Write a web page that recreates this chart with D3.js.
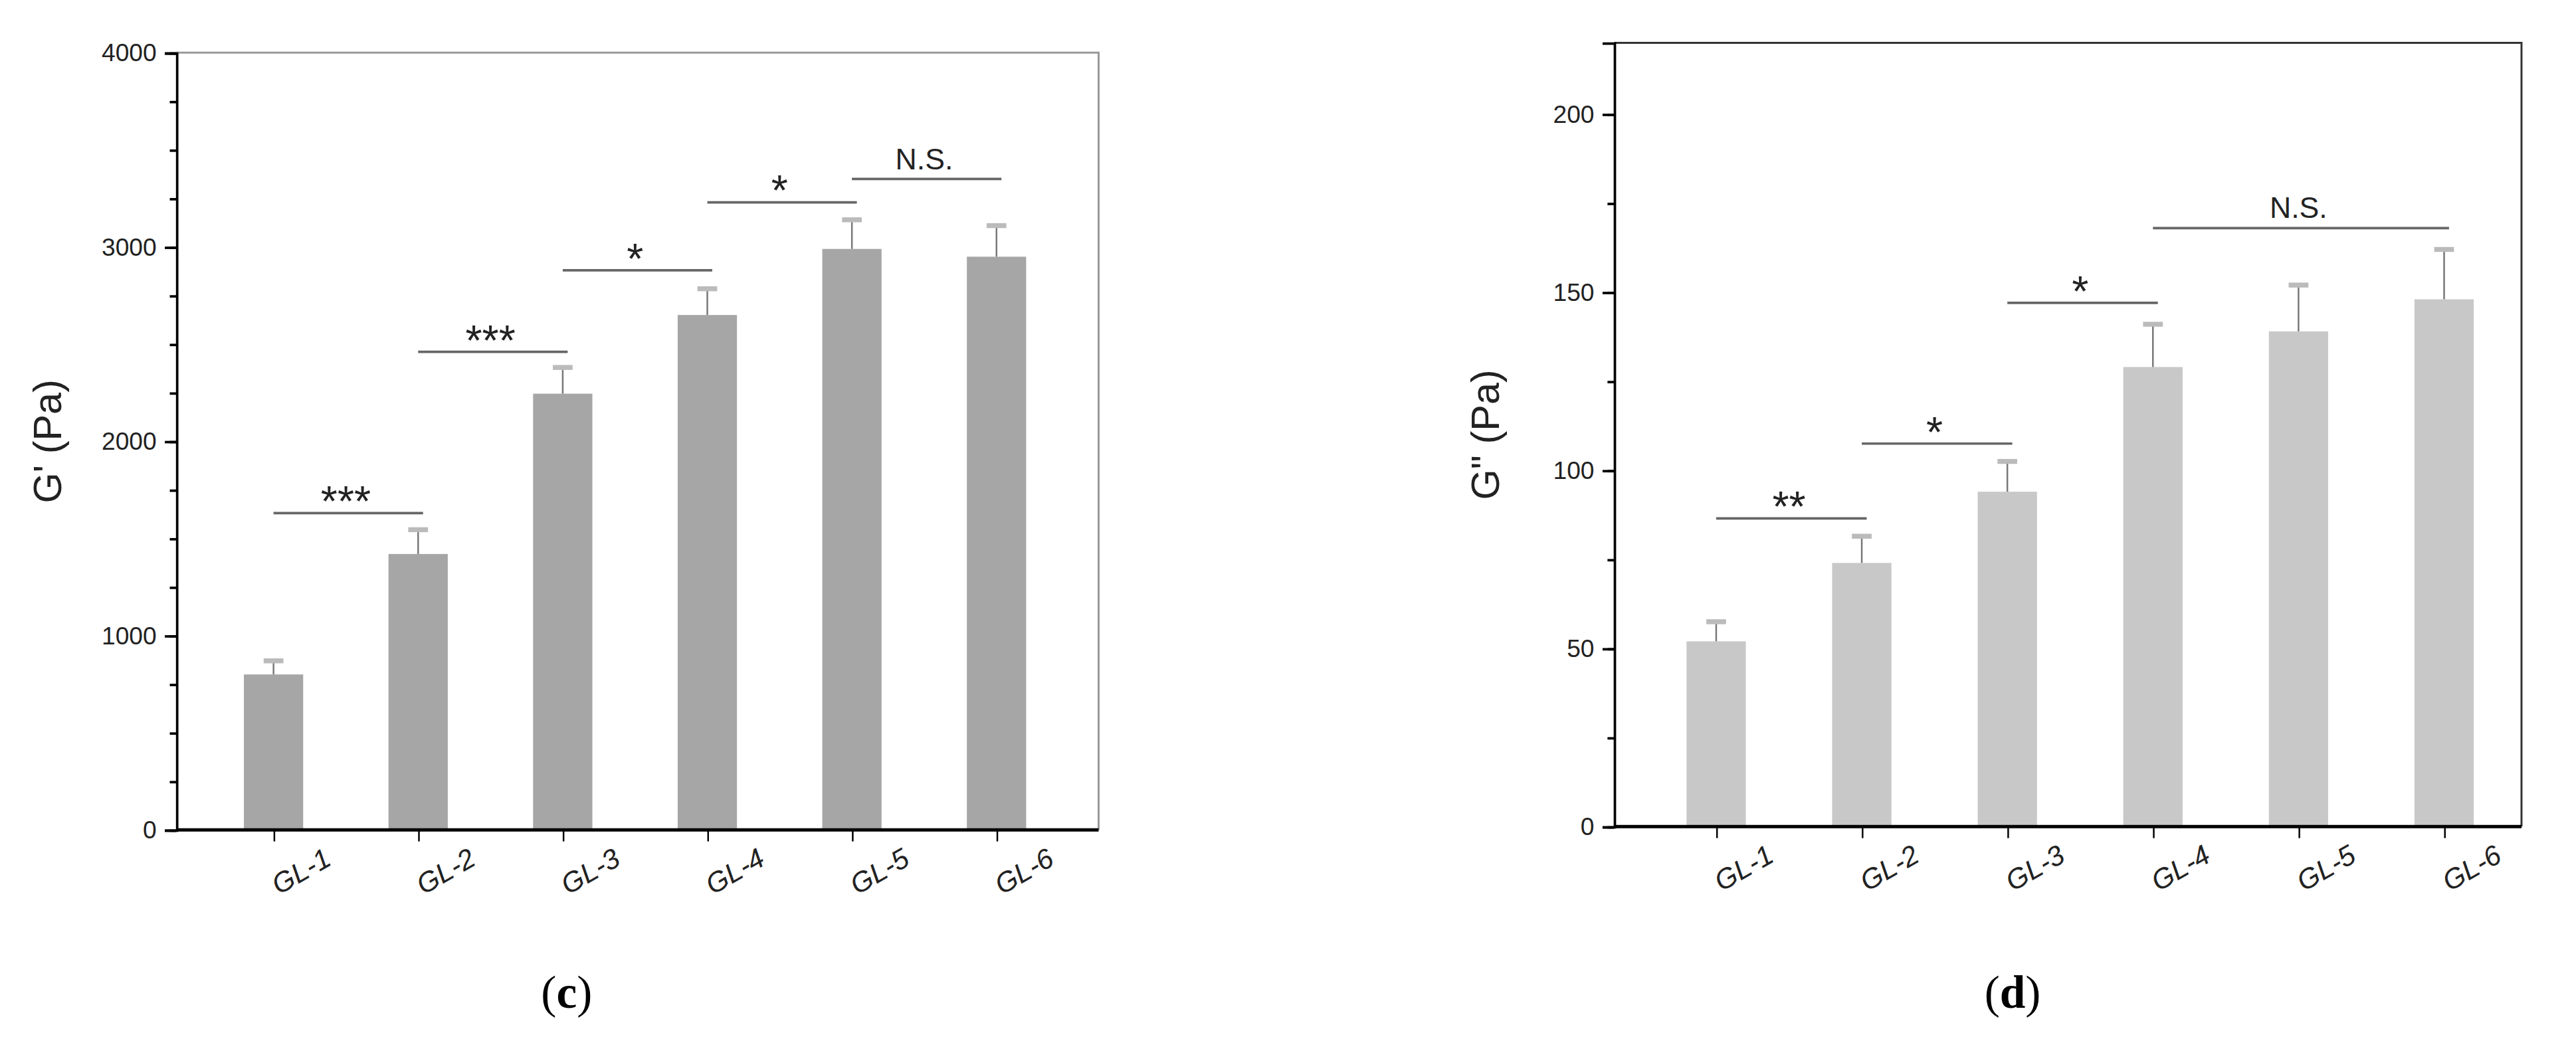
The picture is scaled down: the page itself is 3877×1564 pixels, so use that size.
<!DOCTYPE html>
<html><head><meta charset="utf-8">
<script src="https://cdn.jsdelivr.net/npm/d3@7"></script>
<style>body{margin:0;background:#fff}svg{display:block}</style>
</head><body><div id="chart"></div>
<script>
const groups = ['GL-1', 'GL-2', 'GL-3', 'GL-4', 'GL-5', 'GL-6'];
const gPrime = [800, 1420, 2245, 2650, 2990, 2950];
const gPrimeErr = [70, 125, 135, 135, 150, 160];
const gDouble = [52, 74, 94, 129, 139, 148];
const gDoubleErr = [5.5, 7.5, 8.5, 12, 13, 14];
const sigC = [[0, 1, 1630, '***'], [1, 2, 2460, '***'], [2, 3, 2880, '*'], [3, 4, 3230, '*'], [4, 5, 3350, 'N.S.']];
const sigD = [[0, 1, 86.5, '**'], [1, 2, 107.5, '*'], [2, 3, 147, '*'], [3, 5, 168, 'N.S.']];

const W = 1564, H = 631;
const svg = d3.select('#chart').append('svg')
  .attr('width', 3877).attr('height', 1564)
  .attr('viewBox', `0 0 ${W} ${H}`)
  .style('font-family', 'Arial, Liberation Sans, sans-serif');

function panel(o) {
  const g = svg.append('g');
  const x = d3.scalePoint().domain(groups).range(o.xr);
  const bw = 36;
  const y = d3.scaleLinear().domain([0, o.max]).range([o.bottom, o.top]);

  g.append('path').attr('d', `M${o.left},${o.top}H${o.right}V${o.bottom}`)
    .attr('fill', 'none').attr('stroke', o.frame).attr('stroke-width', 1.2);

  g.selectAll('rect.bar').data(o.values).join('rect')
    .attr('x', (d, i) => x(groups[i]) - bw / 2).attr('width', bw)
    .attr('y', d => y(d)).attr('height', d => y(0) - y(d))
    .attr('fill', o.color);

  const cx = i => x(groups[i]);
  g.selectAll('line.err').data(o.values).join('line')
    .attr('x1', (d, i) => cx(i)).attr('x2', (d, i) => cx(i))
    .attr('y1', d => y(d)).attr('y2', (d, i) => y(d + o.err[i]))
    .attr('stroke', '#777').attr('stroke-width', 1);
  g.selectAll('line.cap').data(o.values).join('line')
    .attr('x1', (d, i) => cx(i) - 6).attr('x2', (d, i) => cx(i) + 6)
    .attr('y1', (d, i) => y(d + o.err[i])).attr('y2', (d, i) => y(d + o.err[i]))
    .attr('stroke', '#bbb').attr('stroke-width', 3);

  o.sig.forEach(([a, b, v, t]) => {
    g.append('line').attr('x1', cx(a)).attr('x2', cx(b) + 3)
      .attr('y1', y(v)).attr('y2', y(v)).attr('stroke', '#666').attr('stroke-width', 1.5);
    g.append('text').attr('x', (cx(a) + cx(b)) / 2).attr('y', y(v) - (t === 'N.S.' ? 6 : -2))
      .attr('text-anchor', 'middle').attr('font-size', t === 'N.S.' ? 18 : 26).attr('fill', '#222').text(t);
  });

  const ya = g.append('g').attr('transform', `translate(${o.left},0)`)
    .call(d3.axisLeft(y).tickValues(d3.range(0, o.max + 1, o.minor)).tickSize(4).tickFormat(''));
  ya.selectAll('.domain').remove();
  const yb = g.append('g').attr('transform', `translate(${o.left},0)`)
    .call(d3.axisLeft(y).tickValues(o.ticks).tickSize(7).tickPadding(5).tickFormat(d3.format('d')));
  yb.selectAll('text').attr('font-size', 15).attr('fill', '#222');
  yb.select('.domain').attr('stroke-width', 1.5);
  ya.selectAll('line').attr('stroke-width', 1.5);
  yb.selectAll('line').attr('stroke-width', 1.5);

  const xa = g.append('g').attr('transform', `translate(0,${o.bottom})`)
    .call(d3.axisBottom(x).tickSize(7).tickSizeOuter(0).tickPadding(10));
  xa.select('.domain').attr('d', `M${o.left},0H${o.right}`).attr('stroke-width', 2);
  xa.selectAll('text').attr('font-size', 17).attr('fill', '#222')
    .attr('text-anchor', 'end').attr('dx', '1.2em').attr('dy', '1.1em')
    .attr('transform', 'rotate(-30)').style('font-style', 'italic');

  g.append('text').attr('transform', `translate(${o.left - 70},${(o.top + o.bottom) / 2}) rotate(-90)`)
    .attr('text-anchor', 'middle').attr('font-size', 24).attr('fill', '#222').text(o.label);

  g.append('text').attr('x', o.capX).attr('y', 612)
    .attr('text-anchor', 'middle').attr('font-family', 'Liberation Serif, serif').attr('font-size', 28)
    .html(`(<tspan font-weight="bold">${o.letter}</tspan>)`);
}

panel({ left: 107, right: 667, top: 32, bottom: 504, xr: [166, 605], max: 4000, ticks: [0, 1000, 2000, 3000, 4000], minor: 250,
  values: gPrime, err: gPrimeErr, sig: sigC, color: '#a6a6a6', frame: '#999', label: "G' (Pa)", letter: 'c', capX: 344 });
panel({ left: 980, right: 1531, top: 26, bottom: 502, xr: [1042, 1484], max: 220, ticks: [0, 50, 100, 150, 200], minor: 25,
  values: gDouble, err: gDoubleErr, sig: sigD, color: '#c8c8c8', frame: '#333', label: 'G" (Pa)', letter: 'd', capX: 1222 });
</script></body></html>
